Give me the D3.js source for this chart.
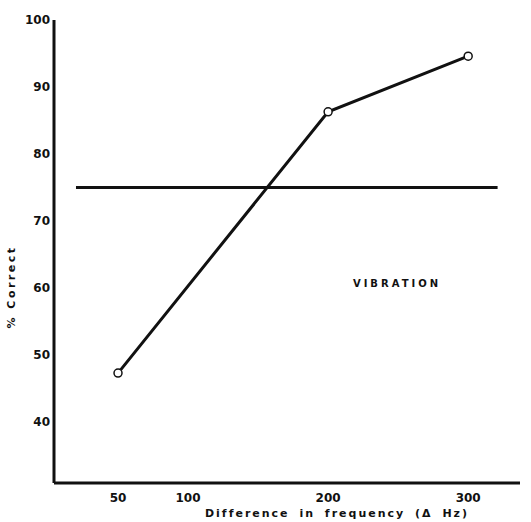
<!DOCTYPE html>
<html>
<head>
<meta charset="utf-8">
<script src="https://cdn.jsdelivr.net/npm/d3@7"></script>
<style>
  body { margin: 0; background: #fff; }
  text { font-family: "DejaVu Sans", sans-serif; font-weight: bold; fill: #111; }
</style>
</head>
<body>
<svg id="chart" width="531" height="522"></svg>
<script>
// values
const freqDiff = [50, 200, 300];
const pctCorrect = [47.3, 86.3, 94.6];
const xTicks = [50, 100, 200, 300];
const yTicks = [40, 50, 60, 70, 80, 90, 100];
const thresholdLevel = 75;
const thresholdSpan = [20, 321];

const svg = d3.select('#chart');

// axis origin sits at ~31% / ~4 Hz in the original
const x = d3.scaleLinear().domain([4.3, 337]).range([54, 520]);
const y = d3.scaleLinear().domain([30.9, 100]).range([483, 20]);

const ink = '#111';

// axis lines, heavy like the original drawing
svg.append('line')
   .attr('x1', x(4.3)).attr('x2', x(4.3))
   .attr('y1', y(100)).attr('y2', y(30.9))
   .attr('stroke', ink).attr('stroke-width', 3);
svg.append('line')
   .attr('x1', x(4.3)).attr('x2', x(337))
   .attr('y1', y(30.9)).attr('y2', y(30.9))
   .attr('stroke', ink).attr('stroke-width', 3);

// tick labels (no tick marks in the figure)
svg.append('g').selectAll('text')
   .data(yTicks)
   .join('text')
   .attr('x', 50)
   .attr('y', d => y(d))
   .attr('dy', '0.35em')
   .attr('text-anchor', 'end')
   .attr('font-size', 12)
   .text(d => d);

svg.append('g').selectAll('text')
   .data(xTicks)
   .join('text')
   .attr('x', d => x(d))
   .attr('y', 502)
   .attr('text-anchor', 'middle')
   .attr('font-size', 12)
   .text(d => d);

// axis titles
svg.append('text')
   .attr('transform', `translate(15,${287}) rotate(-90)`)
   .attr('text-anchor', 'middle')
   .attr('font-size', 11)
   .attr('letter-spacing', 2.5)
   .text('% Correct');

svg.append('text')
   .attr('x', 337)
   .attr('y', 517)
   .attr('text-anchor', 'middle')
   .attr('font-size', 11)
   .attr('letter-spacing', 2)
   .attr('word-spacing', 4)
   .text('Difference in frequency (\u0394 Hz)');

// 75% threshold line
svg.append('line')
   .attr('x1', x(thresholdSpan[0])).attr('x2', x(thresholdSpan[1]))
   .attr('y1', y(thresholdLevel)).attr('y2', y(thresholdLevel))
   .attr('stroke', ink).attr('stroke-width', 3);

// data line
const pts = freqDiff.map((f, i) => [f, pctCorrect[i]]);
svg.append('path')
   .datum(pts)
   .attr('fill', 'none')
   .attr('stroke', ink)
   .attr('stroke-width', 3)
   .attr('d', d3.line().x(d => x(d[0])).y(d => y(d[1])));

svg.append('g').selectAll('circle')
   .data(pts)
   .join('circle')
   .attr('cx', d => x(d[0]))
   .attr('cy', d => y(d[1]))
   .attr('r', 4)
   .attr('fill', '#fff')
   .attr('stroke', ink)
   .attr('stroke-width', 1.5);

// label
svg.append('text')
   .attr('x', 397)
   .attr('y', 287)
   .attr('text-anchor', 'middle')
   .attr('font-size', 10)
   .attr('letter-spacing', 3)
   .text('VIBRATION');
</script>
</body>
</html>
